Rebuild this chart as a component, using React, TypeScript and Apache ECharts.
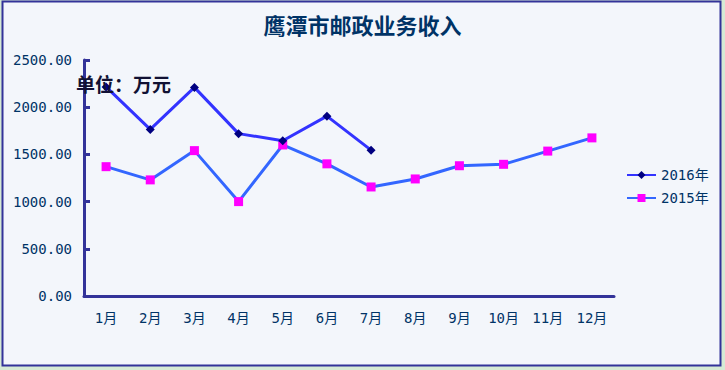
import React, { useEffect, useRef } from "react";
import * as echarts from "echarts";

const months = ["1月", "2月", "3月", "4月", "5月", "6月", "7月", "8月", "9月", "10月", "11月", "12月"];
const series2016 = [2215, 1765, 2210, 1720, 1645, 1905, 1545];
const series2015 = [1370, 1230, 1540, 1000, 1600, 1400, 1155, 1240, 1380, 1395, 1535, 1675];
const yTicks = [0, 500, 1000, 1500, 2000, 2500];

const App: React.FC = () => {
  const ref = useRef<HTMLDivElement>(null);
  useEffect(() => {
    document.body.style.margin = "0";
    const chart = echarts.init(ref.current!, undefined, { renderer: "svg" });
    const axisColor = "#333399";
    const textColor = "#003366";
    const mono = "'DejaVu Sans Mono', 'Noto Sans CJK SC', monospace";
    chart.setOption({
      animation: false,
      backgroundColor: "#D6EAD5",
      graphic: [
        {
          type: "rect",
          shape: { x: 2.5, y: 1.5, width: 718, height: 364 },
          style: { fill: "#F3F6FB", stroke: axisColor, lineWidth: 2 },
          z: -10,
          silent: true,
        },
        {
          type: "text",
          left: 76,
          top: 74,
          style: {
            text: "单位：万元",
            fill: "#111133",
            font: "bold 19px 'Noto Sans CJK SC', serif",
          },
          z: 10,
        },
      ],
      title: {
        text: "鹰潭市邮政业务收入",
        left: "center",
        top: 8,
        textStyle: {
          color: textColor,
          fontSize: 22,
          fontWeight: "bold",
          fontFamily: "'Noto Sans CJK SC', serif",
        },
      },
      legend: {
        orient: "vertical",
        left: 621,
        top: 163,
        itemWidth: 29,
        itemHeight: 10,
        itemGap: 9,
        textStyle: { color: textColor, fontSize: 14, fontFamily: mono },
        data: ["2016年", "2015年"],
      },
      grid: { left: 84, right: 111, top: 60, bottom: 74, containLabel: false },
      xAxis: {
        type: "category",
        data: months,
        boundaryGap: true,
        axisLine: { lineStyle: { color: axisColor, width: 3 } },
        axisTick: { inside: true, length: 6, lineStyle: { color: axisColor, width: 3 } },
        axisLabel: { color: textColor, fontSize: 14, margin: 15, fontFamily: mono },
        splitLine: { show: false },
      },
      yAxis: {
        type: "value",
        min: yTicks[0],
        max: yTicks[yTicks.length - 1],
        interval: 500,
        axisLine: { show: true, lineStyle: { color: axisColor, width: 3 } },
        axisTick: { show: true, inside: true, length: 6, lineStyle: { color: axisColor, width: 3 } },
        axisLabel: {
          color: textColor,
          fontSize: 14,
          margin: 12,
          fontFamily: "'DejaVu Sans Mono', monospace",
          formatter: (v: number) => v.toFixed(2),
        },
        splitLine: { show: false },
      },
      series: [
        {
          name: "2016年",
          type: "line",
          data: series2016,
          symbol: "diamond",
          symbolSize: 9,
          lineStyle: { color: "#3333FF", width: 3 },
          itemStyle: { color: "#000080" },
          z: 3,
        },
        {
          name: "2015年",
          type: "line",
          data: series2015,
          symbol: "rect",
          symbolSize: 9,
          lineStyle: { color: "#3366FF", width: 3 },
          itemStyle: { color: "#FF00FF" },
          z: 2,
        },
      ],
    });
    return () => chart.dispose();
  }, []);
  return <div ref={ref} style={{ position: "absolute", left: 0, top: 0, width: 725, height: 370 }} />;
};

export default App;
